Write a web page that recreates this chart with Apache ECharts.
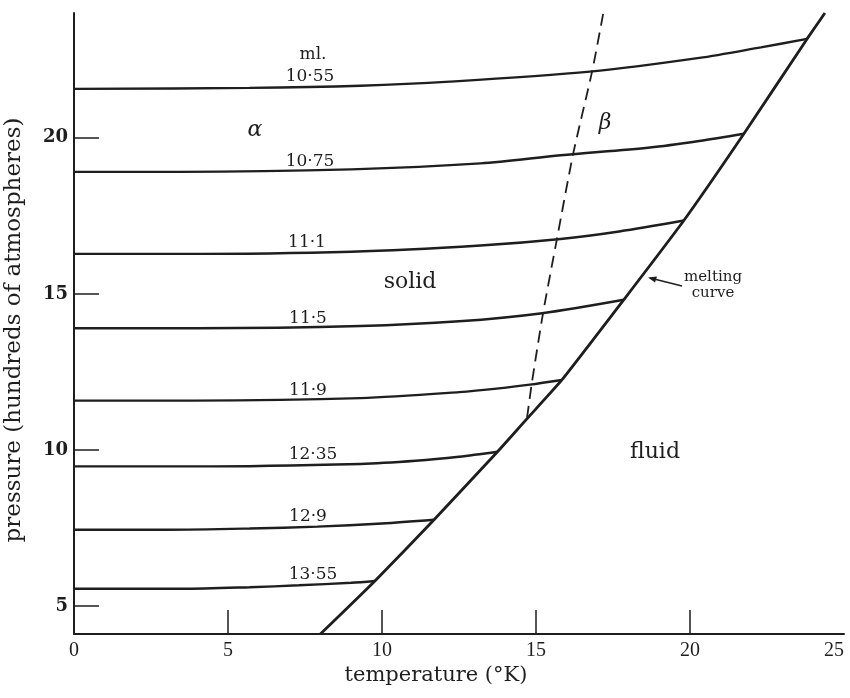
<!DOCTYPE html>
<html><head><meta charset="utf-8">
<script src="https://cdn.jsdelivr.net/npm/echarts@6/dist/echarts.min.js"></script>
<style>html,body{margin:0;padding:0;background:#fff}#c{width:850px;height:698px}</style>
</head><body><div id="c"></div>
<script>
// isochore labels (molar volume, ml.)
const isoNames = ['10·55','10·75','11·1','11·5','11·9','12·35','12·9','13·55'];
// isochores: [temperature K, pressure (hundreds atm)]
const iso1055 = [[0,21.57],[5.7,21.6],[9.3,21.67],[12.2,21.8],[16.75,22.12],[20.3,22.56],[22.3,22.9],[23.8,23.17]];
const iso1075 = [[0,18.91],[3.4,18.91],[9.0,18.99],[13.2,19.18],[15.8,19.44],[18.7,19.69],[20.3,19.9],[21.75,20.13]];
const iso111  = [[0,16.28],[3.4,16.28],[9.0,16.35],[13.2,16.55],[15.8,16.76],[17.7,17.0],[19.8,17.35]];
const iso115  = [[0,13.9],[4.0,13.9],[9.3,13.97],[12.5,14.12],[15.2,14.38],[17.85,14.81]];
const iso119  = [[0,11.58],[3.9,11.58],[9.3,11.66],[12.5,11.85],[13.8,11.97],[14.8,12.09],[15.84,12.24]];
const iso1235 = [[0,9.47],[3.9,9.47],[9.3,9.55],[11.1,9.65],[12.5,9.78],[13.75,9.94]];
const iso129  = [[0,7.44],[3.0,7.44],[5.7,7.48],[7.9,7.54],[10.0,7.64],[11.69,7.76]];
const iso1355 = [[0,5.55],[3.5,5.55],[5.7,5.6],[7.3,5.66],[9.0,5.74],[9.77,5.8]];
const isochores = [iso1055, iso1075, iso111, iso115, iso119, iso1235, iso129, iso1355];
// melting curve
const melting = [[8.0,4.1],[9.77,5.8],[11.69,7.76],[13.75,9.94],[14.71,11.0],[15.84,12.24],[17.85,14.81],[19.8,17.35],[21.75,20.13],[23.8,23.17],[24.38,24.0]];
// alpha-beta transition (dashed)
const betaLine = [[14.71,11.03],[14.87,12.18],[15.23,14.39],[15.68,16.76],[16.2,19.46],[16.82,22.12],[17.18,23.97]];
// axis ticks
const xTicks = [0,5,10,15,20,25];
const yTicks = [5,10,15,20];

const INK = '#1e1e1e';
const FONT = 'DejaVu Serif';
const chart = echarts.init(document.getElementById('c'), null, {renderer:'canvas'});

const series = isochores.map((d,i)=>({
  name: isoNames[i], type:'line', data:d, smooth:0.3, showSymbol:false, silent:true,
  lineStyle:{color:INK,width:2.4}
}));
series.push({name:'melting', type:'line', data:melting, smooth:0.15, showSymbol:false, silent:true,
  lineStyle:{color:INK,width:2.8}});
series.push({name:'beta', type:'line', data:betaLine, smooth:0.2, showSymbol:false, silent:true,
  lineStyle:{color:INK,width:1.8,type:[12,7]}});

const txt = (x,y,text,size,extra)=>({type:'text',x:x,y:y,silent:true,style:Object.assign({text:text,fill:INK,font:size+'px "'+FONT+'"',textAlign:'center',textVerticalAlign:'middle'},extra||{})});

chart.setOption({
  animation:false,
  backgroundColor:'#ffffff',
  grid:{left:74,right:6,top:13,bottom:64,containLabel:false,outerBoundsMode:'none'},
  xAxis:{type:'value',min:0,max:25,interval:5,
    axisLine:{lineStyle:{color:INK,width:2}},
    axisTick:{inside:true,length:24,customValues:[5,10,15,20],lineStyle:{color:INK,width:1.5}},
    axisLabel:{customValues:xTicks,color:INK,fontFamily:'Liberation Serif',fontSize:20,margin:7,alignMaxLabel:'right'},
    splitLine:{show:false}},
  yAxis:{type:'value',min:4.1,max:24,
    axisLine:{lineStyle:{color:INK,width:2}},
    axisTick:{inside:true,length:25,customValues:yTicks,lineStyle:{color:INK,width:1.5}},
    axisLabel:{customValues:yTicks,color:INK,fontFamily:FONT,fontSize:18,fontWeight:'bold',margin:6},
    splitLine:{show:false}},
  series:series,
  graphic:[
    txt(436,676,'temperature (°K)',21),
    Object.assign(txt(14,330,'pressure (hundreds of atmospheres)',23),{rotation:Math.PI/2}),
    txt(313,55,'ml.',17),
    txt(310,77,'10·55',17),
    txt(310,162,'10·75',17),
    txt(307,243,'11·1',17),
    txt(308,319,'11·5',17),
    txt(308,391,'11·9',17),
    txt(313,455,'12·35',17),
    txt(308,517,'12·9',17),
    txt(313,575,'13·55',17),
    txt(255,130,'α',22,{font:'italic 22px "'+FONT+'"'}),
    txt(605,123,'β',22,{font:'italic 22px "'+FONT+'"'}),
    txt(410,282,'solid',22),
    txt(655,452,'fluid',22),
    txt(713,277,'melting',15),
    txt(713,293,'curve',15),
    {type:'line',silent:true,shape:{x1:682,y1:286,x2:650,y2:278},style:{stroke:INK,lineWidth:1.4}},
    {type:'polygon',silent:true,shape:{points:[[648,277.5],[657,276.5],[655,282.5]]},style:{fill:INK}}
  ]
});
</script></body></html>
